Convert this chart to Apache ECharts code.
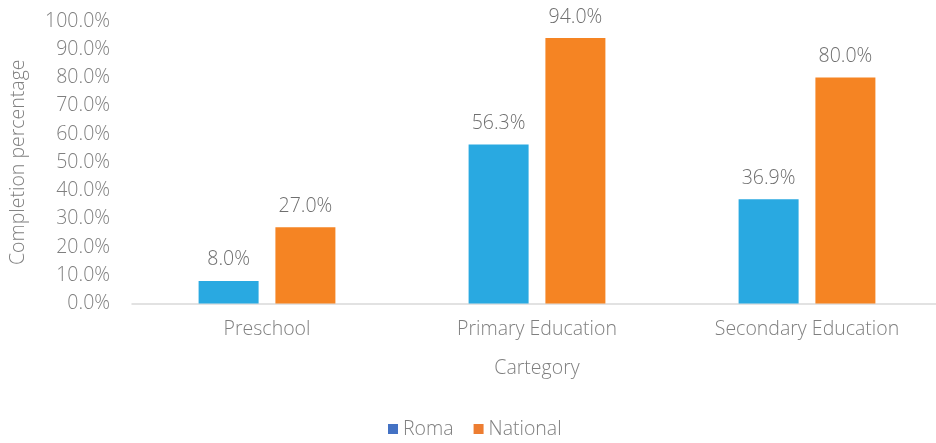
<!DOCTYPE html>
<html>
<head>
<meta charset="utf-8">
<script src="https://cdn.jsdelivr.net/npm/echarts@6/dist/echarts.min.js"></script>
<style>
  html, body { margin: 0; padding: 0; background: #fff; }
  #chart { width: 936px; height: 443px; }
</style>
</head>
<body>
<div id="chart"></div>
<script>
// Completion rates by education level, Roma vs national population
const categories = ['Preschool', 'Primary Education', 'Secondary Education'];
const romaValues = [8.0, 56.3, 36.9];
const nationalValues = [27.0, 94.0, 80.0];

const FONT = '"Open Sans"';
const TEXT = '#7f7f7f';
const FS = 19.5;

const chart = echarts.init(document.getElementById('chart'));

const labelStyle = {
  show: true,
  position: 'top',
  distance: 11,
  color: '#6f6f6f',
  fontFamily: FONT,
  fontWeight: 300,
  fontSize: FS,
  formatter: p => p.value.toFixed(1) + '%'
};

chart.setOption({
  animation: false,
  grid: {
    left: 132, right: -6, top: 21, bottom: 139.5,
    containLabel: false,
    outerBoundsMode: 'none'
  },
  legend: {
    bottom: -1,
    left: 383,
    itemWidth: 10,
    itemHeight: 10,
    itemGap: 20,
    icon: 'rect',
    textStyle: { color: TEXT, fontFamily: FONT, fontWeight: 300, fontSize: FS },
    data: [
      { name: 'Roma', itemStyle: { color: '#4472C4' } },
      { name: 'National', itemStyle: { color: '#ED7D31' } }
    ]
  },
  xAxis: {
    type: 'category',
    data: categories,
    name: 'Cartegory',
    nameLocation: 'middle',
    nameGap: 55,
    nameTextStyle: { color: TEXT, fontFamily: FONT, fontWeight: 300, fontSize: FS },
    axisLine: { lineStyle: { color: '#d9d9d9', width: 1.5 } },
    axisTick: { show: false },
    axisLabel: { color: TEXT, fontFamily: FONT, fontWeight: 300, fontSize: FS, margin: 16 }
  },
  yAxis: {
    type: 'value',
    min: 0,
    max: 100,
    interval: 10,
    name: 'Completion percentage',
    nameLocation: 'middle',
    nameGap: 104,
    nameTextStyle: { color: TEXT, fontFamily: FONT, fontWeight: 300, fontSize: FS },
    splitLine: { show: false },
    axisLine: { show: false },
    axisTick: { show: false },
    axisLabel: {
      color: TEXT, fontFamily: FONT, fontWeight: 300, fontSize: FS, margin: 22,
      formatter: v => v.toFixed(1) + '%'
    }
  },
  series: [
    {
      name: 'Roma',
      type: 'bar',
      data: romaValues,
      barWidth: 60,
      barGap: '28%',
      itemStyle: { color: '#29A9E1' },
      label: labelStyle
    },
    {
      name: 'National',
      type: 'bar',
      data: nationalValues,
      barWidth: 60,
      itemStyle: { color: '#F58423' },
      label: labelStyle
    }
  ]
});
</script>
</body>
</html>
